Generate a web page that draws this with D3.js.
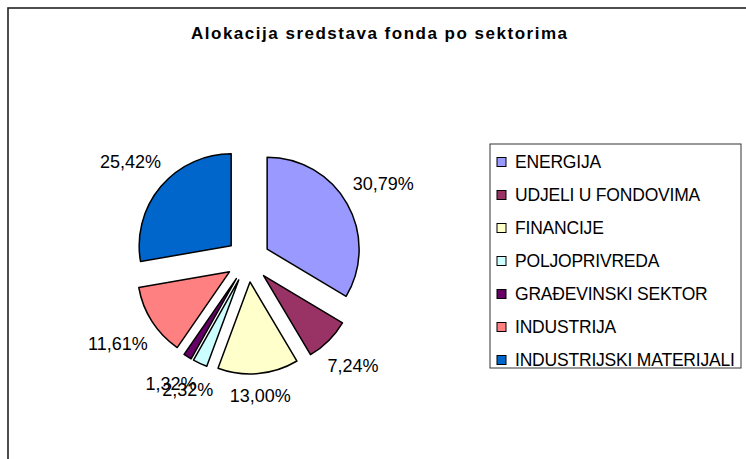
<!DOCTYPE html>
<html>
<head>
<meta charset="utf-8">
<script src="https://cdn.jsdelivr.net/npm/d3@7"></script>
<style>
  body { margin: 0; background: #fff; }
  text { font-family: Arial, "Liberation Sans", sans-serif; }
</style>
</head>
<body>
<div id="chart"></div>
<script>
var sectors = ['ENERGIJA', 'UDJELI U FONDOVIMA', 'FINANCIJE', 'POLJOPRIVREDA',
    'GRAĐEVINSKI SEKTOR', 'INDUSTRIJA', 'INDUSTRIJSKI MATERIJALI'];
var shares = [30.79, 7.24, 13.00, 2.32, 1.32, 11.61, 25.42];
var colours = ['#9999FF', '#993366', '#FFFFCC', '#CCFFFF', '#660066', '#FF8080', '#0066CC'];

var width = 746, height = 459;
var cx = 248, cy = 260, radius = 92, explode = 22, labelGap = 11;

var svg = d3.select('#chart').append('svg')
    .attr('width', width)
    .attr('height', height);

// chart frame (runs off the right and bottom edge, as in the picture)
svg.append('rect')
    .attr('x', 8).attr('y', 8)
    .attr('width', 780).attr('height', 480)
    .attr('fill', 'none')
    .attr('stroke', '#222')
    .attr('stroke-width', 1.6);

svg.append('text')
    .attr('x', 379).attr('y', 39)
    .attr('text-anchor', 'middle')
    .attr('font-size', 17)
    .attr('font-weight', 'bold')
    .attr('textLength', 376)
    .attr('lengthAdjust', 'spacing')
    .text('Alokacija sredstava fonda po sektorima');

var pie = d3.pie().sort(null).value(function(d) { return d; });
var arcs = pie(shares);
var arc = d3.arc().innerRadius(0).outerRadius(radius);
var fmt = function(v) { return d3.format('.2f')(v).replace('.', ',') + '%'; };

function mid(d) { return (d.startAngle + d.endAngle) / 2; }

var g = svg.append('g').attr('transform', 'translate(' + cx + ',' + cy + ')');

g.selectAll('path')
    .data(arcs)
    .enter()
    .append('path')
    .attr('d', arc)
    .attr('fill', function(d, i) { return colours[i]; })
    .attr('stroke', '#000')
    .attr('stroke-width', 1.5)
    .attr('stroke-linejoin', 'round')
    .attr('transform', function(d) {
        var a = mid(d);
        return 'translate(' + (explode * Math.sin(a)) + ',' + (-explode * Math.cos(a)) + ')';
    });

var labels = g.selectAll('text.lbl')
    .data(arcs)
    .enter()
    .append('text')
    .attr('class', 'lbl')
    .attr('font-size', 18)
    .attr('text-anchor', 'middle')
    .attr('dy', '0.36em')
    .text(function(d) { return fmt(d.data); });

labels.each(function(d) {
    var a = mid(d);
    var s = Math.sin(a), c = Math.cos(a);
    var hw = this.getComputedTextLength() / 2, hh = 8;
    var dist = radius + labelGap + hw * Math.abs(s) + hh * Math.abs(c);
    var ex = explode * s, ey = -explode * c;
    d3.select(this)
        .attr('x', ex + dist * s)
        .attr('y', ey - dist * c);
});

// legend
var legend = svg.append('g');
legend.append('rect')
    .attr('x', 490).attr('y', 144)
    .attr('width', 251).attr('height', 224)
    .attr('fill', '#fff')
    .attr('stroke', '#333')
    .attr('stroke-width', 1);

var ly = d3.scalePoint().domain(sectors).range([162, 360]);

var items = legend.selectAll('g.item')
    .data(sectors)
    .enter()
    .append('g')
    .attr('class', 'item')
    .attr('transform', function(d) { return 'translate(497,' + ly(d) + ')'; });

items.append('rect')
    .attr('x', 0).attr('y', -4.5)
    .attr('width', 9).attr('height', 9)
    .attr('fill', function(d, i) { return colours[i]; })
    .attr('stroke', '#000')
    .attr('stroke-width', 1);

items.append('text')
    .attr('x', 18)
    .attr('dy', '0.36em')
    .attr('font-size', 17.5)
    .attr('letter-spacing', -0.2)
    .text(function(d) { return d; });
</script>
</body>
</html>
